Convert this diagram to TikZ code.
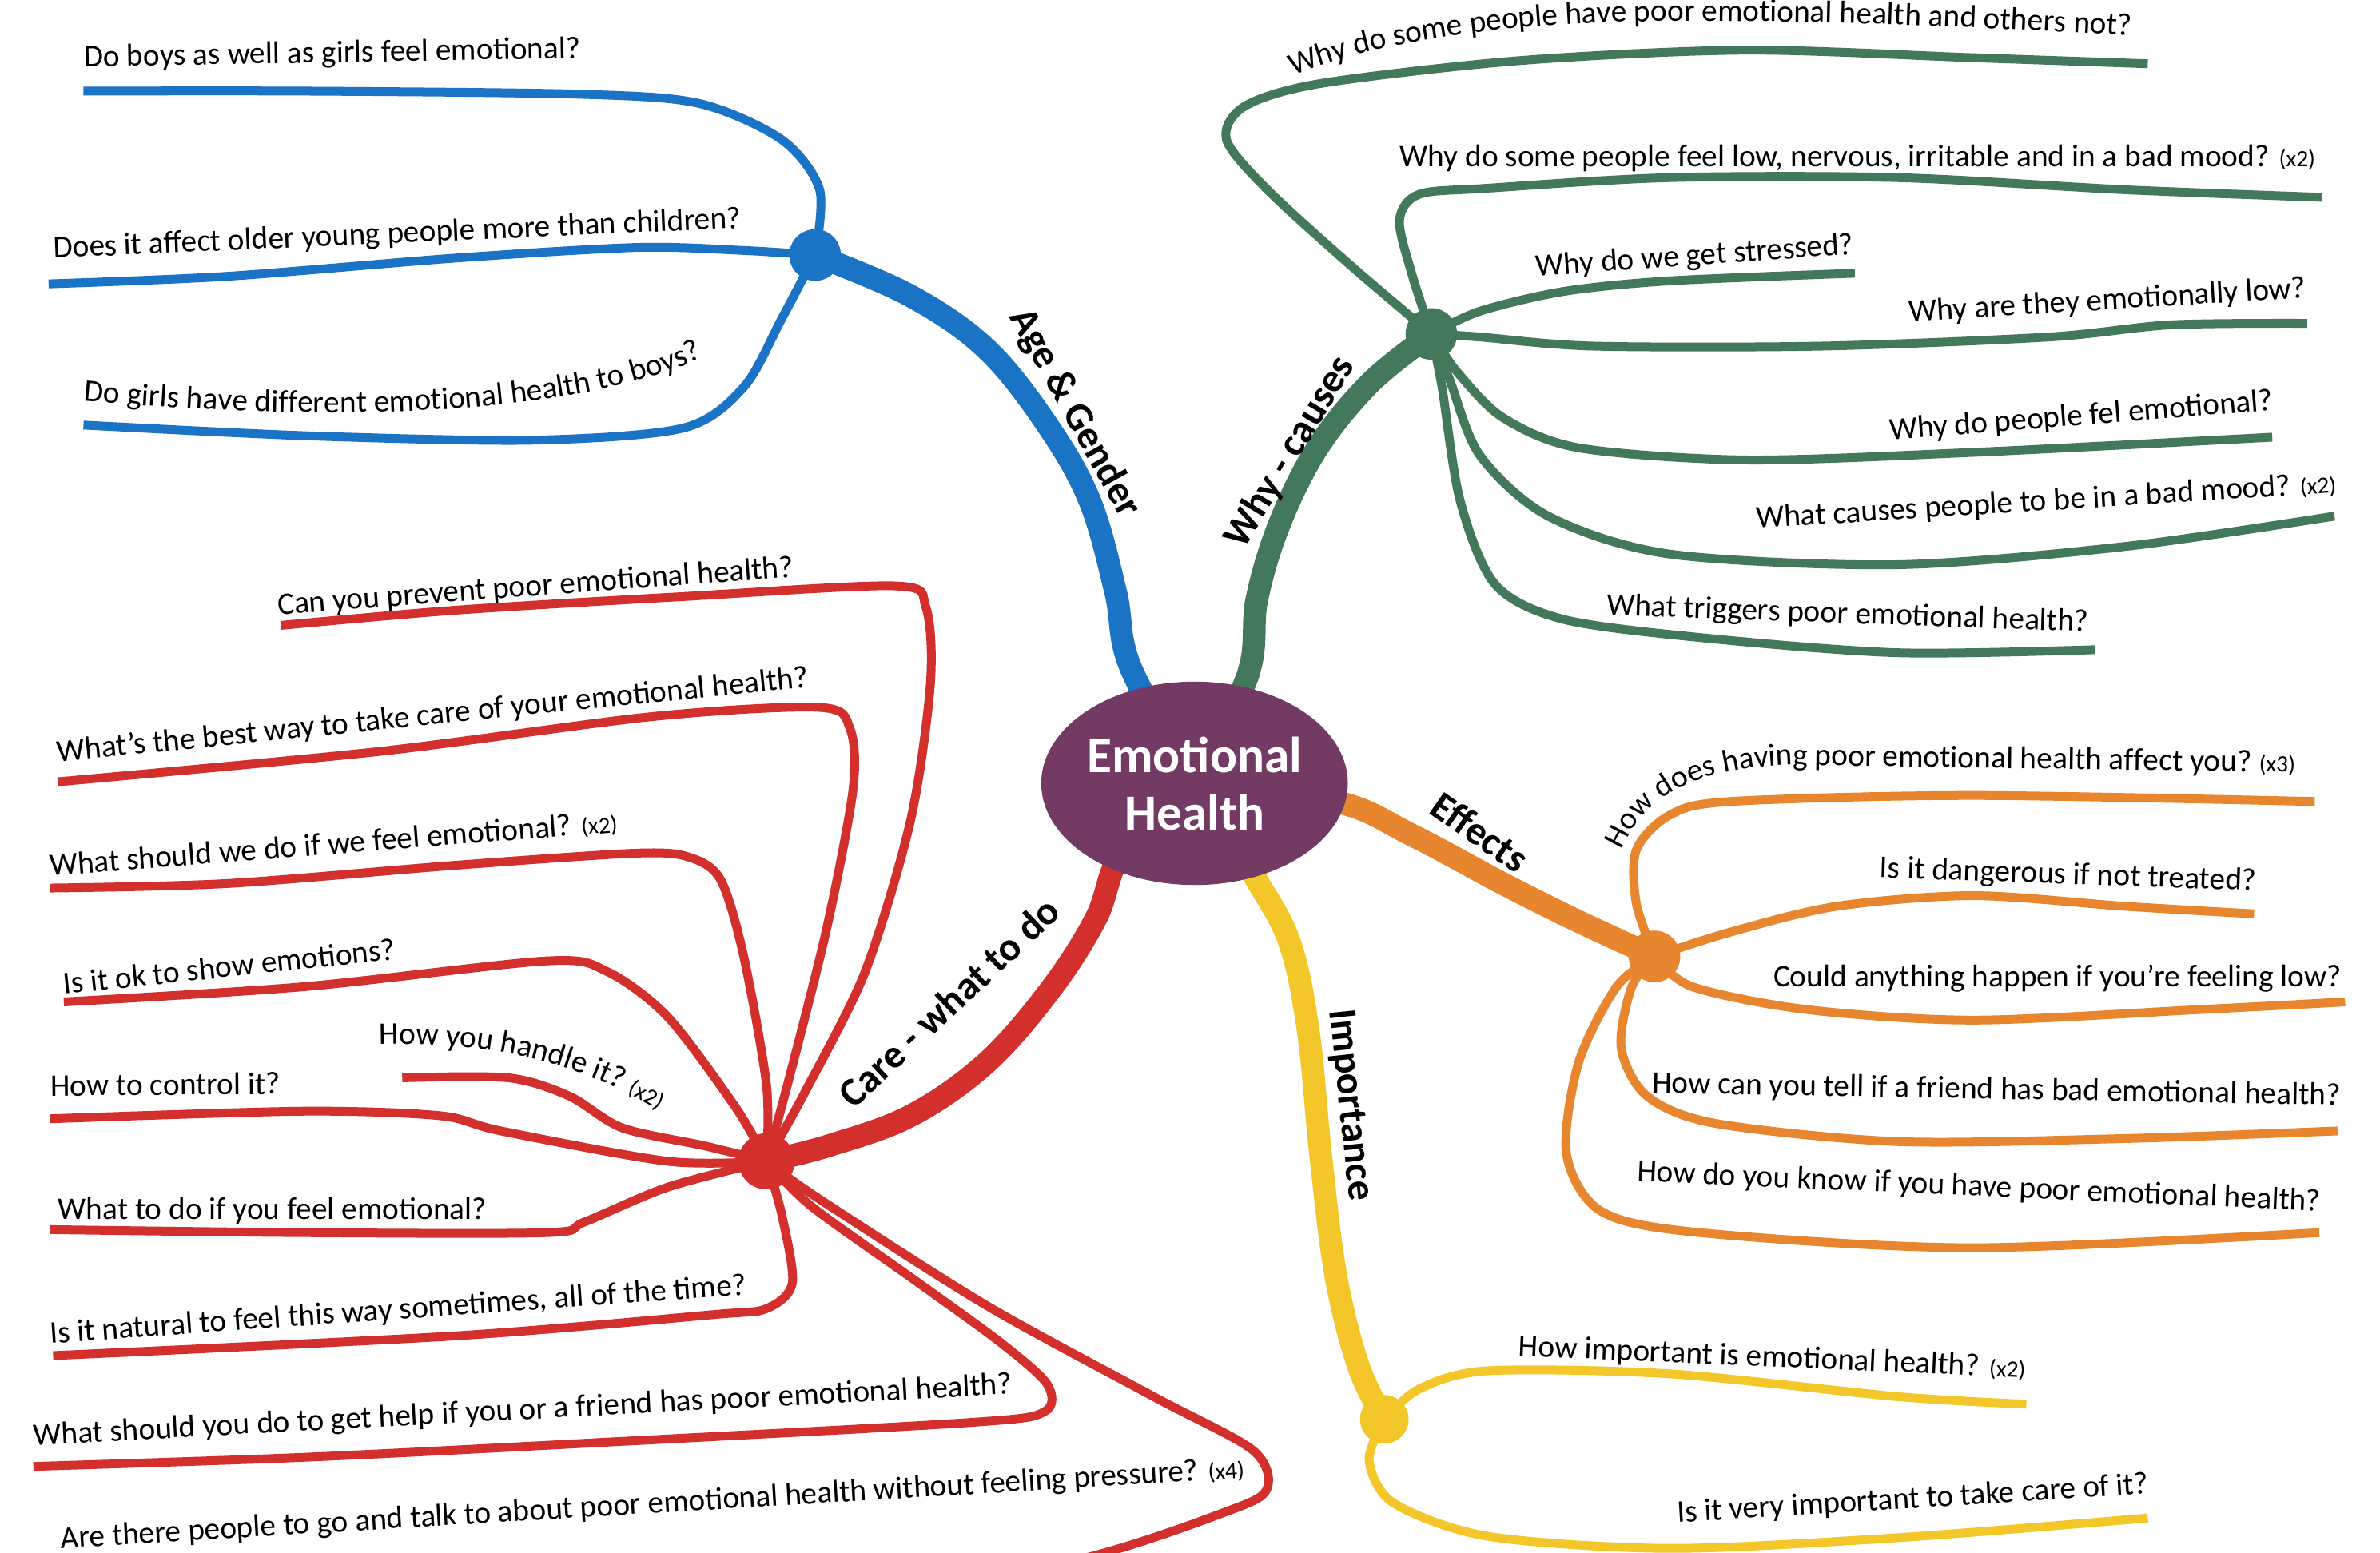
\documentclass[tikz,border=0pt]{standalone}
\usepackage{fontspec}
\setmainfont{Carlito}
\usetikzlibrary{shapes.geometric,decorations.text}
\definecolor{cBlue}{HTML}{1A73C4}
\definecolor{cGreen}{HTML}{44785A}
\definecolor{cOrange}{HTML}{E8862F}
\definecolor{cYellow}{HTML}{F3C629}
\definecolor{cRed}{HTML}{D3302D}
\definecolor{cPurple}{HTML}{733A64}
\newcommand\leaffont{\fontsize{11.8}{13.5}\selectfont}
\newcommand\tagfont{\fontsize{8.8}{10}\selectfont}
\begin{document}
\begin{tikzpicture}[x=0.02cm,y=-0.02cm,
  leaf/.style={line width=3.3pt},
  trunk/.style={line width=8.5pt},
  hub/.style={circle,minimum size=0.68cm,inner sep=0pt},
  qtext/.style={anchor=base west,font=\leaffont,inner sep=0pt},
  blabel/.style={font=\bfseries\fontsize{15}{18}\selectfont,inner sep=0pt},
  curvetext/.style={decorate,decoration={text along path,text={#1}}}]
\useasboundingbox (0,0) rectangle (1568,1023);
\fill[white] (0,0) rectangle (1568,1023);
\clip (0,0) rectangle (1568,1023);

\coordinate (c) at (787,516);
% hubs
\node[hub,fill=cBlue] (hb) at (537,168) {};
\node[hub,fill=cGreen] (hg) at (943,220) {};
\node[hub,fill=cOrange] (ho) at (1090,630) {};
\node[hub,fill=cYellow,minimum size=0.64cm] (hy) at (912,935) {};
\node[hub,fill=cRed,minimum size=0.74cm] (hr) at (505,765) {};

% leaf end points
\coordinate (eB1) at (55,60);
\coordinate (eB2) at (32,187);
\coordinate (eB3) at (55,280);
\coordinate (eG1) at (1415,42);
\coordinate (eG2) at (1530,130);
\coordinate (eG3) at (1222,180);
\coordinate (eG4) at (1520,213);
\coordinate (eG5) at (1497,288);
\coordinate (eG6) at (1538,340);
\coordinate (eG7) at (1380,428);
\coordinate (eO1) at (1525,528);
\coordinate (eO2) at (1485,602);
\coordinate (eO3) at (1545,660);
\coordinate (eO4) at (1540,745);
\coordinate (eO5) at (1528,812);
\coordinate (eY1) at (1335,925);
\coordinate (eY2) at (1415,1000);
\coordinate (eR1) at (185,412);
\coordinate (eR2) at (38,515);
\coordinate (eR3) at (33,585);
\coordinate (eR4) at (42,660);
\coordinate (eR5) at (265,710);
\coordinate (eR6) at (33,737);
\coordinate (eR7) at (33,810);
\coordinate (eR8) at (35,893);
\coordinate (eR9) at (22,966);
\coordinate (eR10) at (480,1070);

% trunks
\draw[trunk,cBlue] plot[smooth,tension=0.6] coordinates {(c) (745,440) (735,390) (718,330) (690,280) (650,230) (600,195) (hb)};
\draw[trunk,cGreen] plot[smooth,tension=0.6] coordinates {(c) (822,445) (828,395) (843,345) (868,295) (903,252) (hg)};
\draw[trunk,cOrange] plot[smooth,tension=0.6] coordinates {(c) (880,528) (930,550) (990,582) (1040,607) (ho)};
\draw[trunk,cYellow] plot[smooth,tension=0.6] coordinates {(c) (828,580) (850,622) (862,680) (870,760) (880,840) (895,900) (hy)};
\draw[trunk,cRed] plot[smooth,tension=0.6] coordinates {(c) (740,560) (722,605) (692,652) (650,700) (600,735) (545,755) (hr)};

% blue leaves
\begin{scope}[leaf,cBlue]
\draw plot[smooth] coordinates {(hb) (540,125) (515,92) (460,68) (380,62) (200,60) (eB1)};
\draw plot[smooth] coordinates {(hb) (490,165) (420,163) (300,170) (150,182) (eB2)};
\draw plot[smooth] coordinates {(hb) (515,210) (490,255) (450,282) (350,290) (200,287) (eB3)};
\end{scope}
% green leaves
\begin{scope}[leaf,cGreen]
\draw plot[smooth] coordinates {(hg) (890,175) (835,125) (808,92) (820,70) (870,55) (1000,40) (1150,33) (1300,38) (eG1)};
\draw plot[smooth] coordinates {(hg) (930,180) (922,145) (935,128) (980,124) (1100,117) (1250,117) (1400,125) (eG2)};
\draw plot[smooth] coordinates {(hg) (975,205) (1030,192) (1100,185) (eG3)};
\draw plot[smooth] coordinates {(hg) (975,222) (1050,228) (1200,228) (1350,222) (1430,214) (eG4)};
\draw plot[smooth] coordinates {(hg) (960,245) (990,275) (1040,295) (1150,303) (1300,298) (eG5)};
\draw plot[smooth] coordinates {(hg) (955,250) (975,300) (1020,340) (1100,365) (1250,372) (1400,360) (eG6)};
\draw plot[smooth] coordinates {(hg) (950,255) (962,330) (985,385) (1030,408) (1120,420) (1250,430) (eG7)};
\end{scope}
% orange leaves
\begin{scope}[leaf,cOrange]
\draw plot[smooth] coordinates {(ho) (1078,595) (1078,560) (1100,537) (1140,528) (1300,524) (eO1)};
\draw plot[smooth] coordinates {(ho) (1140,614) (1210,597) (1300,590) (1400,597) (eO2)};
\draw plot[smooth] coordinates {(ho) (1115,650) (1190,665) (1300,672) (1450,665) (eO3)};
\draw plot[smooth] coordinates {(ho) (1075,650) (1068,690) (1085,722) (1130,740) (1250,752) (1400,750) (eO4)};
\draw plot[smooth] coordinates {(ho) (1065,650) (1040,700) (1032,760) (1055,798) (1120,812) (1300,822) (eO5)};
\end{scope}
% yellow leaves
\begin{scope}[leaf,cYellow]
\draw plot[smooth] coordinates {(hy) (935,915) (980,903) (1100,905) (1250,920) (eY1)};
\draw plot[smooth] coordinates {(hy) (902,962) (918,990) (980,1012) (1100,1020) (1250,1013) (eY2)};
\end{scope}
% red leaves
\begin{scope}[leaf,cRed]
\draw plot[smooth] coordinates {(hr) (530,720) (570,640) (600,540) (613,450) (610,400) (590,386) (450,393) (300,402) (eR1)};
\draw plot[smooth] coordinates {(hr) (520,710) (545,610) (562,520) (560,480) (540,466) (430,472) (250,495) (eR2)};
\draw plot[smooth] coordinates {(hr) (505,715) (490,630) (475,580) (455,565) (420,562) (300,570) (150,582) (eR3)};
\draw plot[smooth] coordinates {(hr) (485,730) (440,670) (400,640) (360,633) (200,650) (eR4)};
\draw plot[smooth] coordinates {(hr) (465,755) (410,743) (375,722) (335,710) (eR5)};
\draw plot[smooth] coordinates {(hr) (440,765) (330,745) (290,735) (200,732) (eR6)};
\draw plot[smooth] coordinates {(hr) (440,782) (385,805) (360,812) (200,812) (eR7)};
\draw plot[smooth] coordinates {(hr) (515,800) (522,845) (505,862) (470,866) (300,880) (eR8)};
\draw plot[smooth] coordinates {(hr) (535,795) (605,845) (660,885) (690,912) (688,930) (640,937) (400,950) (200,960) (eR9)};
\draw plot[smooth] coordinates {(hr) (540,790) (650,860) (760,920) (825,955) (835,980) (810,995) (700,1030) (eR10)};
\end{scope}

% centre
\node[ellipse,fill=cPurple,minimum width=4.04cm,minimum height=2.68cm,inner sep=0pt,
  text=white,font=\bfseries\fontsize{19}{21.6}\selectfont,align=center] (center) at (c) {Emotional\\Health};

% branch labels
\node[blabel,rotate=-61] (lAG) at (708,272) {Age \& Gender};
\node[blabel,rotate=59] (lWC) at (850,298) {Why - causes};
\node[blabel,rotate=-35] (lEF) at (975,548) {Effects};
\node[blabel,rotate=-84] (lIM) at (889,728) {Importance};
\node[blabel,rotate=43] (lCW) at (625,660) {Care - what to do};

% blue texts
\node[qtext,rotate=1] (tB1) at (55,44) {Do boys as well as girls feel emotional?};
\node[qtext,rotate=2.5] (tB2) at (35,170) {Does it affect older young people more than children?};
\path[curvetext={|\leaffont|Do girls have different emotional health to boys?}] (55,264) .. controls (200,277) and (380,278) .. (470,232) -- (520,200);

% green texts
\path[curvetext={|\leaffont|Why do some people have poor emotional health and others not?}] (852,50) .. controls (920,22) and (1020,12) .. (1150,14) .. controls (1250,15) and (1350,20) .. (1460,27);
\node[qtext] (tG2) at (922,110) {Why do some people feel low, nervous, irritable and in a bad mood? {\tagfont(x2)}};
\node[qtext,rotate=4] (tG3) at (1012,182) {Why do we get stressed?};
\node[qtext,rotate=3.5] (tG4) at (1258,212) {Why are they emotionally low?};
\node[qtext,rotate=4.5] (tG5) at (1245,290) {Why do people fel emotional?};
\node[qtext,rotate=3.5] (tG6) at (1157,348) {What causes people to be in a bad mood? {\tagfont(x2)}};
\node[qtext,rotate=-2] (tG7) at (1058,405) {What triggers poor emotional health?};

% orange texts
\path[curvetext={|\leaffont|How does having poor emotional health affect you? |\tagfont|(x3)}] (1068,560) .. controls (1085,522) and (1120,506) .. (1180,504) -- (1600,510);
\node[qtext,rotate=-2] (tO2) at (1238,578) {Is it dangerous if not treated?};
\node[qtext] (tO3) at (1168,650) {Could anything happen if you’re feeling low?};
\node[qtext,rotate=-1] (tO4) at (1088,720) {How can you tell if a friend has bad emotional health?};
\node[qtext,rotate=-2.5] (tO5) at (1078,778) {How do you know if you have poor emotional health?};

% yellow texts
\node[qtext,rotate=-2.5] (tY1) at (1000,893) {How important is emotional health? {\tagfont(x2)}};
\node[qtext,rotate=3.5] (tY2) at (1105,1003) {Is it very important to take care of it?};

% red texts
\node[qtext,rotate=4.2] (tR1) at (183,405) {Can you prevent poor emotional health?};
\node[qtext,rotate=5.7] (tR2) at (38,502) {What’s the best way to take care of your emotional health?};
\node[qtext,rotate=4.4] (tR3) at (33,577) {What should we do if we feel emotional? {\tagfont(x2)}};
\node[qtext,rotate=6] (tR4) at (42,655) {Is it ok to show emotions?};
\path[curvetext={|\leaffont|How you handle it? |\tagfont|(x2)}] (250,688) .. controls (320,686) and (380,698) .. (440,735) -- (480,765);
\node[qtext,rotate=0.5] (tR6) at (33,722) {How to control it?};
\node[qtext] (tR7) at (38,803) {What to do if you feel emotional?};
\node[qtext,rotate=4] (tR8) at (33,885) {Is it natural to feel this way sometimes, all of the time?};
\node[qtext,rotate=3] (tR9) at (22,952) {What should you do to get help if you or a friend has poor emotional health?};
\node[qtext,rotate=3.4] (tR10) at (40,1020) {Are there people to go and talk to about poor emotional health without feeling pressure? {\tagfont(x4)}};
\end{tikzpicture}
\end{document}
